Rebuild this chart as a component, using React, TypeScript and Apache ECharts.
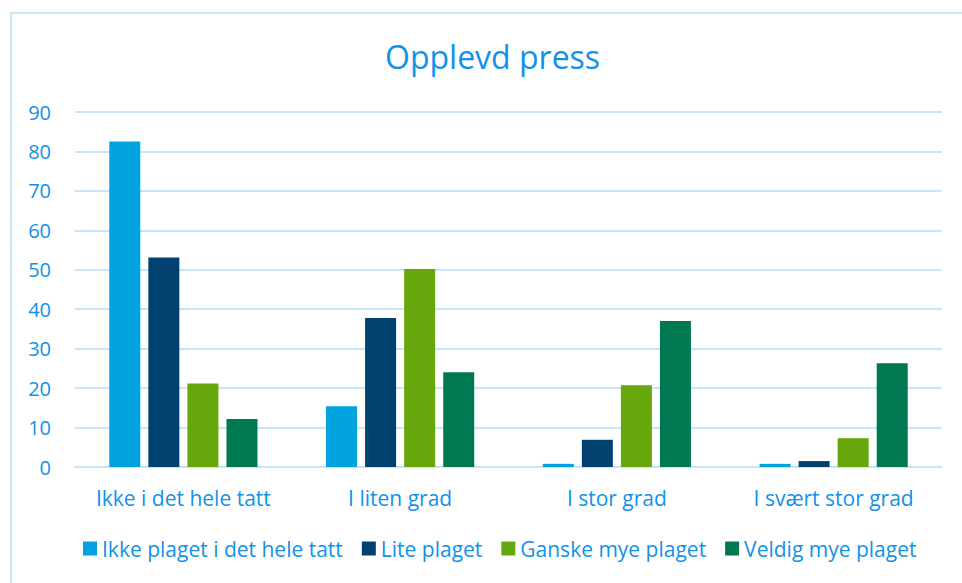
import React, { useEffect, useRef } from "react";
import * as echarts from "echarts";

const categories = ["Ikke i det hele tatt", "I liten grad", "I stor grad", "I svært stor grad"];
const seriesNames = ["Ikke plaget i det hele tatt", "Lite plaget", "Ganske mye plaget", "Veldig mye plaget"];
const ikkePlaget = [82.5, 15.4, 0.8, 0.8];
const litePlaget = [53.1, 37.8, 6.9, 1.5];
const ganskeMye = [21.2, 50.2, 20.7, 7.3];
const veldigMye = [12.2, 24.0, 37.0, 26.3];
const yTicks = [0, 10, 20, 30, 40, 50, 60, 70, 80, 90];

const colors = ["#00A3E0", "#004170", "#66A80C", "#007852"];
const textColor = "#1192E8";
const gridColor = "#C7E6FA";
const font = "Open Sans";

export default function App() {
  const ref = useRef<HTMLDivElement>(null);
  useEffect(() => {
    if (!ref.current) return;
    const chart = echarts.init(ref.current, null, { renderer: "svg" });
    const values = [ikkePlaget, litePlaget, ganskeMye, veldigMye];
    chart.setOption({
      animation: false,
      backgroundColor: "#ffffff",
      color: colors,
      title: {
        text: "Opplevd press",
        left: 380,
        top: 35,
        textStyle: { color: textColor, fontFamily: font, fontSize: 32, fontWeight: "normal" },
      },
      graphic: [
        {
          type: "rect",
          shape: { x: 11, y: 13, width: 1000, height: 700 },
          style: { fill: "none", stroke: gridColor, lineWidth: 2 },
          silent: true,
        },
      ],
      legend: {
        bottom: 19,
        left: 78,
        itemWidth: 14,
        itemHeight: 14,
        itemGap: 19,
        icon: "rect",
        textStyle: { color: textColor, fontFamily: font, fontSize: 21 },
        data: seriesNames,
      },
      grid: { left: 75, right: 20, top: 112, bottom: 116 },
      xAxis: {
        type: "category",
        data: categories,
        axisLine: { show: true, lineStyle: { color: gridColor, width: 2 } },
        axisTick: { show: false },
        axisLabel: { color: textColor, fontFamily: font, fontSize: 21, margin: 20, interval: 0, hideOverlap: false },
      },
      yAxis: {
        type: "value",
        min: yTicks[0],
        max: yTicks[yTicks.length - 1],
        interval: 10,
        axisLine: { show: false },
        axisTick: { show: false },
        splitLine: { lineStyle: { color: gridColor, width: 2 } },
        axisLabel: { color: textColor, fontFamily: font, fontSize: 20, margin: 24 },
      },
      series: seriesNames.map((name, i) => ({
        name,
        type: "bar",
        data: values[i],
        barWidth: 31,
        barGap: "26%",
        itemStyle: { color: colors[i] },
      })),
    });
    return () => chart.dispose();
  }, []);
  return (
    <div
      ref={ref}
      style={{ position: "fixed", left: 0, top: 0, width: 962, height: 583 }}
    />
  );
}
